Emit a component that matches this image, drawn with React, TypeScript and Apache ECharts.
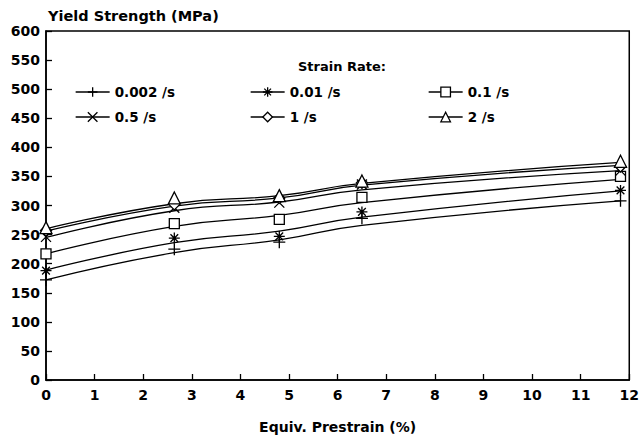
import React, { useEffect, useRef } from "react";
import * as echarts from "echarts";

const xPoints = [0, 2.64, 4.8, 6.5, 11.82];
const seriesNames = ["0.002 /s", "0.01 /s", "0.1 /s", "0.5 /s", "1 /s", "2 /s"];
// measured points
const pts0002 = [172, 225, 237, 278, 308];
const pts001 = [188, 244, 247, 289, 326];
const pts01 = [217, 269, 276, 314, 350];
const pts05 = [246, 296, 305, 336, 360];
const pts1 = [257, 302, 313, 339, 367];
const pts2 = [262, 313, 317, 342, 376];
// fitted curves
const fit0002 = [172, 219, 241, 266, 308];
const fit001 = [189, 236, 256, 280, 325];
const fit01 = [217, 264, 283, 305, 345];
const fit05 = [245, 291, 306, 327, 360];
const fit1 = [256, 299, 313, 335, 369];
const fit2 = [260, 303, 317, 338, 374];

const symbols = [
  "path://M5,0L5,10M0,5L10,5",
  "path://M5,0L5,10M0,5L10,5M1.5,1.5L8.5,8.5M8.5,1.5L1.5,8.5",
  "rect",
  "path://M0,0L10,10M10,0L0,10",
  "diamond",
  "triangle",
];
const symbolSizes = [12, 11, 10, 10, 11, 12];

const FONT = "'DejaVu Sans', Verdana, sans-serif";

export default function App() {
  const ref = useRef<HTMLDivElement>(null);
  useEffect(() => {
    if (!ref.current) return;
    const chart = echarts.init(ref.current, null, { renderer: "svg" });
    const ptsAll = [pts0002, pts001, pts01, pts05, pts1, pts2];
    const fitAll = [fit0002, fit001, fit01, fit05, fit1, fit2];
    const series: any[] = [];
    seriesNames.forEach((name, i) => {
      series.push({
        name,
        type: "line",
        smooth: true,
        showSymbol: false,
        symbol: symbols[i],
        symbolSize: symbolSizes[i],
        data: xPoints.map((x, j) => [x, fitAll[i][j]]),
        lineStyle: { color: "#000", width: 1.3 },
        itemStyle: { color: "#fff", borderColor: "#000", borderWidth: 1.3 },
        z: 2,
      });
      series.push({
        name,
        type: "scatter",
        symbol: symbols[i],
        symbolSize: symbolSizes[i],
        data: xPoints.map((x, j) => [x, ptsAll[i][j]]),
        itemStyle: { color: "#fff", borderColor: "#000", borderWidth: 1.3, opacity: 1 },
        z: 3,
      });
    });
    const legendPos = [
      [75, 85],
      [250, 85],
      [428, 85],
      [75, 110],
      [250, 110],
      [428, 110],
    ];
    const legends = seriesNames.map((name, i) => ({
      data: [name],
      left: legendPos[i][0],
      top: legendPos[i][1],
      padding: 0,
      itemWidth: 34,
      itemHeight: 12,
      itemGap: 0,
      selectedMode: false,
      textStyle: { fontFamily: FONT, fontWeight: "bold", fontSize: 13.5, color: "#000", padding: [0, 0, 0, 0] },
      itemStyle: { borderWidth: 1.3 },
      lineStyle: { width: 1.3 },
    }));
    chart.setOption({
      animation: false,
      backgroundColor: "#fff",
      title: [
        {
          text: "Yield Strength (MPa)",
          left: 43,
          top: 3,
          textStyle: { fontFamily: FONT, fontWeight: "bold", fontSize: 14.5, color: "#000" },
        },
        {
          text: "Strain Rate:",
          left: 293,
          top: 55,
          textStyle: { fontFamily: FONT, fontWeight: "bold", fontSize: 13, color: "#000" },
        },
      ],
      legend: legends,
      grid: {
        left: 46,
        right: 10,
        top: 31,
        bottom: 63,
        show: true,
        borderColor: "#000",
        borderWidth: 1.5,
      },
      xAxis: {
        type: "value",
        min: 0,
        max: 12,
        interval: 1,
        name: "Equiv. Prestrain (%)",
        nameLocation: "middle",
        nameGap: 40,
        nameTextStyle: { fontFamily: FONT, fontWeight: "bold", fontSize: 14, color: "#000" },
        axisLine: { lineStyle: { color: "#000", width: 1.5 } },
        axisTick: { inside: true, length: 6, lineStyle: { color: "#000", width: 1.3 } },
        splitLine: { show: false },
        axisLabel: { fontFamily: FONT, fontWeight: "bold", fontSize: 14, color: "#000", margin: 8 },
      },
      yAxis: {
        type: "value",
        min: 0,
        max: 600,
        interval: 50,
        axisLine: { show: true, lineStyle: { color: "#000", width: 1.5 } },
        axisTick: { show: true, inside: true, length: 6, lineStyle: { color: "#000", width: 1.3 } },
        splitLine: { show: false },
        axisLabel: { fontFamily: FONT, fontWeight: "bold", fontSize: 14, color: "#000", margin: 6 },
      },
      series,
    });
    return () => chart.dispose();
  }, []);
  return <div ref={ref} style={{ width: 642, height: 443, position: "absolute", left: 0, top: 0 }} />;
}
